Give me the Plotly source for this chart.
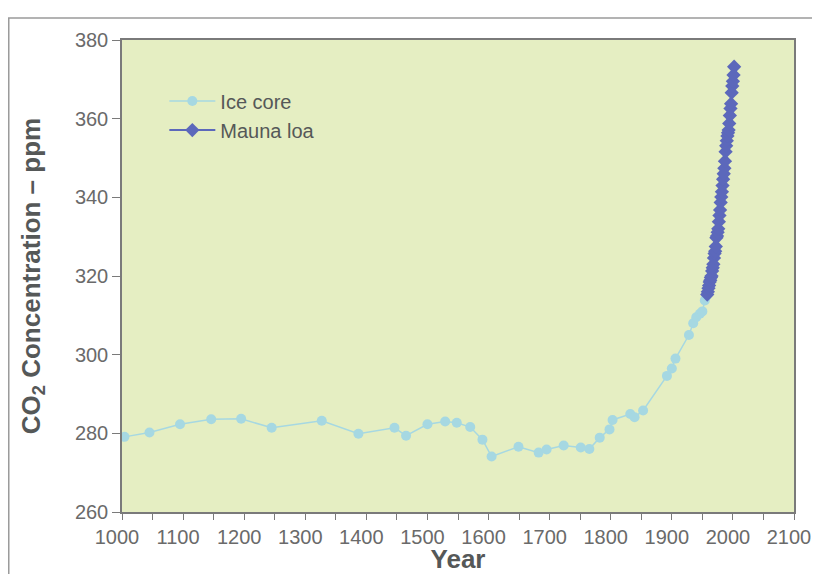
import plotly.graph_objects as go

ice_years = [1004, 1045, 1095, 1146, 1195, 1245, 1327, 1387, 1446, 1465, 1500, 1529,
             1548, 1570, 1590, 1605, 1649, 1682, 1695, 1723, 1751, 1765, 1782, 1798,
             1803, 1832, 1839, 1853, 1892, 1900, 1906, 1928, 1935, 1940, 1946, 1950,
             1954, 1957]
ice_ppm = [279.1, 280.2, 282.3, 283.6, 283.7, 281.4, 283.2, 279.9, 281.4, 279.4, 282.3, 283.0,
           282.7, 281.6, 278.4, 274.1, 276.6, 275.1, 275.9, 276.9, 276.4, 276.0, 278.9, 281.0,
           283.4, 284.9, 284.1, 285.8, 294.6, 296.5, 299.0, 305.0, 308.0, 309.5, 310.4, 311.0,
           313.8, 315.0]

ml_years = list(range(1958, 2003))
ml_ppm = [315.3, 316.0, 316.9, 317.6, 318.5, 318.9, 319.6, 320.0, 321.3, 322.1, 323.0,
          324.6, 325.7, 326.3, 327.5, 329.7, 330.2, 331.1, 332.0, 333.8, 335.4, 336.8,
          338.7, 340.1, 341.4, 343.0, 344.6, 346.0, 347.4, 349.2, 351.6, 353.1, 354.4,
          355.6, 356.4, 357.1, 358.8, 360.8, 362.6, 363.8, 366.6, 368.3, 369.5, 371.1, 373.2]

x_ticks = list(range(1000, 2101, 100))
y_ticks = list(range(260, 381, 20))

fig = go.Figure()
fig.add_trace(go.Scatter(
    x=ice_years, y=ice_ppm, mode="lines+markers", name="Ice core",
    line=dict(color="#a6d8e2", width=1.5),
    marker=dict(symbol="circle", size=10, color="#a6d8e2"),
))
fig.add_trace(go.Scatter(
    x=ml_years, y=ml_ppm, mode="lines+markers", name="Mauna loa",
    line=dict(color="#5c68bb", width=2),
    marker=dict(symbol="diamond", size=11, color="#5c68bb"),
))

axis_font = dict(family="Liberation Sans, Arial, sans-serif", size=20, color="#6a6a6a")
title_font = dict(family="Liberation Sans, Arial, sans-serif", size=26, color="#555858")

fig.update_layout(
    width=804, height=566,
    margin=dict(l=114, r=18, t=32, b=62),
    paper_bgcolor="white",
    plot_bgcolor="#e5eec2",
    showlegend=True,
    legend=dict(x=0.063, y=0.912, xanchor="left", yanchor="top",
                bgcolor="rgba(0,0,0,0)",
                font=dict(family="Liberation Sans, Arial, sans-serif", size=20, color="#555858"),
                itemwidth=46, tracegroupgap=2),
    xaxis=dict(
        range=[1000, 2100], tickvals=x_ticks, ticktext=[str(v) for v in x_ticks],
        showgrid=False, zeroline=False, automargin=False,
        showline=True, linecolor="#7a7a7a", linewidth=1.5, mirror=True,
        ticks="outside", ticklen=6, tickcolor="#7a7a7a",
        minor=dict(dtick=50, ticks="outside", ticklen=6, tickcolor="#7a7a7a"),
        tickfont=axis_font, ticklabelshift=-5, ticklabeloverflow="allow",
        title=dict(text="<b>Year</b>", font=title_font, standoff=11),
    ),
    yaxis=dict(
        range=[260, 380], tickvals=y_ticks, ticktext=[str(v) for v in y_ticks],
        showgrid=False, zeroline=False, automargin=False,
        showline=True, linecolor="#7a7a7a", linewidth=1.5, mirror=True,
        ticks="outside", ticklen=8, tickcolor="#7a7a7a",
        tickfont=axis_font, ticklabeloverflow="allow",
        title=dict(text="<b>CO<sub>2</sub> Concentration – ppm</b>", font=title_font, standoff=27),
    ),
    shapes=[dict(type="rect", xref="paper", yref="paper",
                 x0=-0.1685, x1=1.2, y0=-0.3, y1=1.0466,
                 line=dict(color="#9a9a9a", width=1.5), layer="below")],
)

fig.write_html("out.html")
